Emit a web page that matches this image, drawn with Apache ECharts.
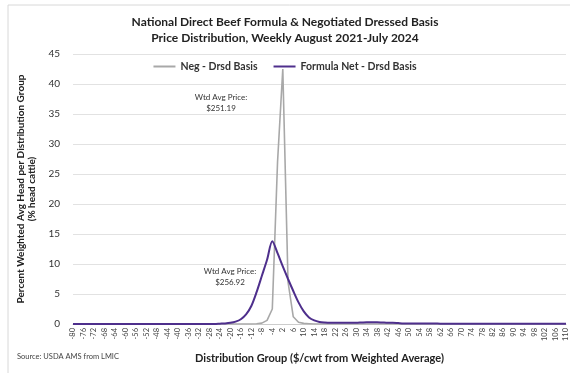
<!DOCTYPE html>
<html><head><meta charset="utf-8">
<script src="https://cdn.jsdelivr.net/npm/echarts@6/dist/echarts.min.js"></script>
<style>html,body{margin:0;padding:0;background:#fff}#c{width:570px;height:373px}</style>
</head><body><div id="c"></div>
<script>
var categories = ['-80','-78','-76','-74','-72','-70','-68','-66','-64','-62','-60','-58','-56','-54','-52','-50','-48','-46','-44','-42','-40','-38','-36','-34','-32','-30','-28','-26','-24','-22','-20','-18','-16','-14','-12','-10','-8','-6','-4','-2',
'2','4','6','8','10','12','14','16','18','20','22','24','26','28','30','32','34','36','38','40','42','44','46','48','50','52','54','56','58','60','62','64','66','68','70','72','74','76','78','80','82','84','86','88','90','92','94','96','98','100','102','104','106','108','110'];

var negDrsd = [0,0,0,0,0,0,0,0,0,0,0,0,0,0,0,0,0,0,0,0,0,0,0,0,0,0,0,0,0,0,0,0,0,0,0,0.05,0.15,0.6,2.5,27,
42.5,7,1.2,0.3,0.1,0.05,0,0,0,0,0,0,0,0,0,0,0,0,0,0,0,0,0,0,0,0,0,0,0,0,0,0,0,0,0,0,0,0,0,0,0,0,0,0,0,0,0,0,0,0,0,0,0,0,0];

var formulaNet = [0,0,0,0,0,0,0,0,0,0,0,0,0,0,0,0,0,0,0,0,0,0,0,0,0,0,0,0,0.05,0.1,0.2,0.4,0.8,1.6,3.0,5.3,8.0,10.7,13.8,11.8,
9.6,7.5,5.5,3.6,2.1,1.1,0.6,0.35,0.25,0.2,
0.2,0.2,0.2,0.2,0.2,0.25,0.3,0.3,0.3,0.25,0.2,0.2,0.15,
0.1,0.1,0.1,0.1,0.1,0.1,0.1,
0.05,0.05,0.05,0.05,0.05,0.05,0.05,0.05,0.05,0.05,0.05,0.05,0.05,0.05,0.05,0.05,0.05,0.05,0.05,0.05,0.05,0.05,0.05,0.05,0.05];

var seriesNames = ['Neg - Drsd Basis', 'Formula Net - Drsd Basis'];

var chart = echarts.init(document.getElementById('c'), null, {renderer:'canvas'});
var FF = 'Lato, "Open Sans", sans-serif';
chart.setOption({
  animation: false,
  backgroundColor: '#fff',
  title: {
    text: 'National Direct Beef Formula & Negotiated Dressed Basis\nPrice Distribution, Weekly August 2021-July 2024',
    left: 'center', top: 9,
    textStyle: {fontFamily: FF, fontSize: 12, fontWeight: 'bold', color: '#222', lineHeight: 16}
  },
  legend: {
    top: 56, left: 'center',
    itemWidth: 22, itemHeight: 2, itemGap: 16,
    icon: 'rect',
    textStyle: {fontFamily: FF, fontSize: 10.5, color: '#333', fontWeight: 'bold'},
    data: seriesNames
  },
  grid: {left: 73, right: 3, top: 54, bottom: 49},
  xAxis: {
    type: 'category', data: categories, boundaryGap: false,
    name: 'Distribution Group ($/cwt from Weighted Average)',
    nameLocation: 'middle', nameGap: 29,
    nameTextStyle: {fontFamily: FF, fontSize: 11, fontWeight: 'bold', color: '#222'},
    axisLine: {lineStyle: {color: '#ccc'}},
    axisTick: {show: false},
    axisLabel: {interval: 1, rotate: 90, fontFamily: FF, fontSize: 7.5, color: '#444', margin: 4}
  },
  yAxis: {
    type: 'value', min: 0, max: 45, interval: 5,
    name: 'Percent Weighted Avg Head per Distribution Group\n(% head cattle)',
    nameLocation: 'middle', nameGap: 26,
    nameTextStyle: {fontFamily: FF, fontSize: 10, fontWeight: 'bold', color: '#222', lineHeight: 11},
    axisLine: {show: false}, axisTick: {show: false},
    axisLabel: {fontFamily: FF, fontSize: 10, color: '#333', margin: 13},
    splitLine: {lineStyle: {color: '#e2e2e2'}}
  },
  series: [
    {name: seriesNames[0], type: 'line', data: negDrsd, symbol: 'none',
     lineStyle: {color: '#a8a8a8', width: 1.6}, itemStyle: {color: '#a8a8a8'}, z: 2},
    {name: seriesNames[1], type: 'line', data: formulaNet, symbol: 'none', smooth: 0.3,
     lineStyle: {color: '#4e2f8c', width: 2}, itemStyle: {color: '#4e2f8c'}, z: 3}
  ],
  graphic: [
    {type: 'text', left: 17, top: 353, style: {text: 'Source: USDA AMS from LMIC', font: '7.5px Lato, sans-serif', fill: '#444'}},
    {type: 'text', x: 221, y: 92, style: {text: 'Wtd Avg Price:\n$251.19', font: '8px Lato, sans-serif', fill: '#333', textAlign: 'center', lineHeight: 11}},
    {type: 'text', x: 230, y: 266, style: {text: 'Wtd Avg Price:\n$256.92', font: '8px Lato, sans-serif', fill: '#333', textAlign: 'center', lineHeight: 11}},
    {type: 'rect', shape: {x: 8, y: 5, width: 570, height: 380}, style: {fill: 'none', stroke: '#d8d8d8', lineWidth: 1}, silent: true}
  ]
});
</script></body></html>
